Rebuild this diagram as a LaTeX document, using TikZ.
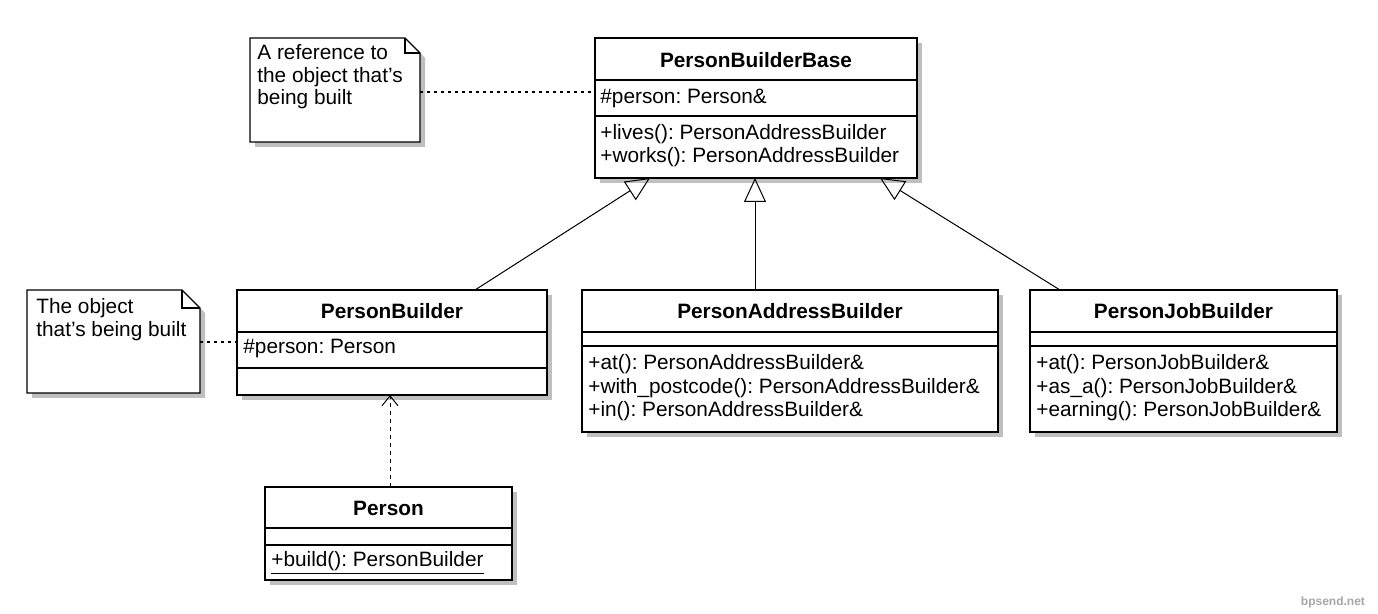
\documentclass[tikz,border=0pt]{standalone}
\usepackage{fontspec}
\setmainfont{Liberation Sans}
\usetikzlibrary{arrows.meta}
\begin{document}
\frenchspacing
\begin{tikzpicture}[x=0.5pt,y=-0.5pt,font=\fontsize{10.4}{11.3}\selectfont,
  box/.style={draw,line width=0.7pt,fill=white},
  sh/.style={fill=black!25,draw=none},
  t/.style={anchor=west,inner sep=0pt},
  h/.style={inner sep=0pt,font=\fontsize{10.4}{11.3}\selectfont\bfseries},
  inh/.style={-{Triangle[open,length=12pt,width=11pt]},line width=0.5pt},
  dep/.style={-{Straight Barb[length=5pt,width=8pt]},dash pattern=on 2pt off 2pt,line width=0.5pt},
  nl/.style={dash pattern=on 1.5pt off 2pt,line width=0.6pt}]
\useasboundingbox (0,0) rectangle (1378,614);
% PersonBuilderBase
\fill[sh] (600,43) rectangle (922,183);
\node[box,minimum width=161pt,minimum height=70pt,inner sep=0pt] (pbb) at (756,108) {};
\draw[line width=0.7pt] (595,80)--(917,80) (595,116)--(917,116);
\node[h] (pbbt) at (756,60) {PersonBuilderBase};
\node[t] (pbb1) at (600,98) {\#person: Person\&};
\node[t] (pbb2) at (600,134) {+lives(): PersonAddressBuilder};
\node[t] (pbb3) at (600,157) {+works(): PersonAddressBuilder};
% note1
\fill[sh] (255,43) -- (410,43) -- (425,58) -- (425,147) -- (255,147) -- cycle;
\draw[line width=0.6pt,fill=white] (250,38) -- (405,38) -- (420,53) -- (420,142) -- (250,142) -- cycle;
\draw[line width=0.6pt] (405,38) -- (405,53) -- (420,53);
\coordinate (n1) at (420,92);
\node[t,align=left,anchor=north west] (n1t) at (257,44) {A reference to\\the object that's\\being built};
% PersonBuilder
\fill[sh] (242,295) rectangle (552,400);
\node[box,minimum width=155pt,minimum height=52.5pt,inner sep=0pt] (pb) at (392,342.5) {};
\draw[line width=0.7pt] (237,332)--(547,332) (237,368)--(547,368);
\node[h] (pbt) at (392,311) {PersonBuilder};
\node[t] (pb1) at (243,349) {\#person: Person};
% note2
\fill[sh] (32,295) -- (187,295) -- (205,313) -- (205,398) -- (32,398) -- cycle;
\draw[line width=0.6pt,fill=white] (27,290) -- (182,290) -- (200,308) -- (200,393) -- (27,393) -- cycle;
\draw[line width=0.6pt] (182,290) -- (182,308) -- (200,308);
\node[t,align=left,anchor=north west] (n2t) at (36,298) {The object\\that's being built};
\draw[nl] (200,342) -- (pb.west |- 0,342);
\draw[nl] (n1) -- (pbb.west |- 0,92);
% PersonAddressBuilder
\fill[sh] (587,295) rectangle (1003,437);
\node[box,minimum width=208pt,minimum height=71pt,inner sep=0pt] (pab) at (790,361) {};
\draw[line width=0.7pt] (582,332)--(998,332) (582,346)--(998,346);
\node[h] (pabt) at (790,311) {PersonAddressBuilder};
\node[t] (pab1) at (588,364) {+at(): PersonAddressBuilder\&};
\node[t] (pab2) at (588,388) {+with\_postcode(): PersonAddressBuilder\&};
\node[t] (pab3) at (588,411) {+in(): PersonAddressBuilder\&};
% PersonJobBuilder
\fill[sh] (1035,295) rectangle (1342,437);
\node[box,minimum width=153.5pt,minimum height=71pt,inner sep=0pt] (pjb) at (1183.5,361) {};
\draw[line width=0.7pt] (1030,332)--(1337,332) (1030,346)--(1337,346);
\node[h] (pjbt) at (1183.5,311) {PersonJobBuilder};
\node[t] (pjb1) at (1036,364) {+at(): PersonJobBuilder\&};
\node[t] (pjb2) at (1036,388) {+as\_a(): PersonJobBuilder\&};
\node[t] (pjb3) at (1036,411) {+earning(): PersonJobBuilder\&};
% Person
\fill[sh] (270,492) rectangle (517,585);
\node[box,minimum width=123.5pt,minimum height=46.5pt,inner sep=0pt] (p) at (388.5,533.5) {};
\draw[line width=0.7pt] (265,528)--(512,528) (265,545)--(512,545);
\node[h] (pt) at (388.5,508) {Person};
\node[t] (p1) at (271,563) {\underline{+build(): PersonBuilder}};
% arrows
\draw[inh] (475,290) -- (650,178);
\draw[inh] (755,290) -- (755,178);
\draw[inh] (1060,290) -- (880,178);
\draw[dep] (390,487) -- (390,395);
\node[anchor=east,text=black!35,font=\fontsize{6}{7}\selectfont\bfseries] (wm) at (1372,602) {bpsend.net};
\end{tikzpicture}
\end{document}
